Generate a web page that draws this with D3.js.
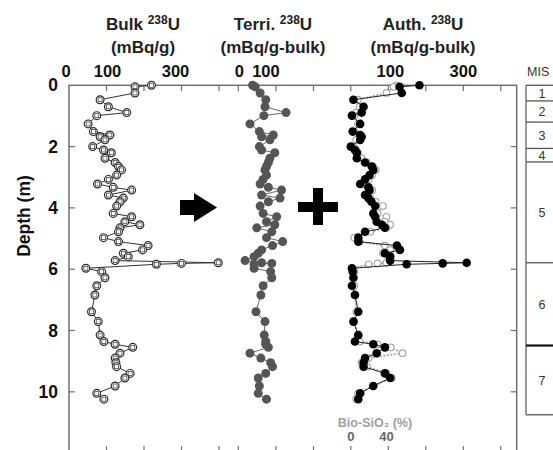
<!DOCTYPE html>
<html>
<head>
<meta charset="utf-8">
<script src="https://cdn.jsdelivr.net/npm/d3@7"></script>
<style>
    body { margin: 0; background: #fff; }
    text { font-family: 'Liberation Sans', Arial, sans-serif; }
</style>
</head>
<body>
<div id="chart"></div>
<script>
// depth of each sample (m), shared by all series
const depth = [0.00, 0.05, 0.25, 0.47, 0.70, 0.89, 0.99, 1.26, 1.51, 1.62, 1.68, 1.78,
    2.00, 2.11, 2.20, 2.38, 2.52, 2.65, 2.76, 2.93, 3.07, 3.22, 3.33, 3.42, 3.58, 3.68,
    3.80, 3.94, 4.18, 4.29, 4.45, 4.55, 4.65, 4.78, 4.97, 5.10, 5.23, 5.37, 5.48, 5.59,
    5.72, 5.79, 5.81, 5.84, 5.97, 6.08, 6.28, 6.54, 6.84, 7.39, 7.71, 8.15, 8.36, 8.45,
    8.55, 8.74, 8.90, 9.05, 9.18, 9.40, 9.55, 9.81, 10.05, 10.24]

// bulk 238U (mBq/g)
const bulk = [220, 176, 176, 83, 105, 154, 74, 51, 65, 109, 83, 96,
    63, 92, 113, 96, 123, 132, 140, 127, 105, 76, 118, 167, 105, 145,
    136, 127, 118, 167, 149, 189, 136, 132, 92, 132, 211, 196, 145, 158,
    123, 398, 300, 233, 45, 87, 96, 74, 69, 60, 78, 83, 93, 123,
    170, 136, 123, 125, 127, 163, 149, 123, 74, 93]

// terrigenous 238U (mBq/g-bulk)
const terri = [38, 45, 58, 73, 71, 127, 68, 31, 56, 93, 62, 84,
    56, 62, 97, 84, 80, 75, 71, 75, 66, 58, 80, 115, 62, 111,
    80, 58, 66, 102, 75, 97, 49, 89, 75, 118, 91, 62, 53, 42,
    18, 62, 89, 42, 42, 86, 89, 66, 60, 47, 71, 69, 73, 73,
    80, 31, 60, 86, 91, 73, 53, 56, 53, 75]

// authigenic 238U (mBq/g-bulk)
const auth = [183, 130, 136, 7, 34, 29, 3, 25, 5, 25, 29, 25,
    0, 11, 16, 16, 38, 56, 60, 50, 38, 25, 47, 50, 38, 47,
    55, 65, 60, 65, 69, 83, 91, 38, 20, 20, 123, 131, 91, 105,
    105, 309, 245, 149, 3, 5, 7, 3, 11, 20, 7, 20, 11, 60,
    91, 69, 38, 34, 34, 91, 105, 60, 25, 20]

// biogenic opal (%)
const bioSiO2 = [51, 48, 40, 8, 10, 6, 4, 8, 4, 8, 10, 6,
    3, 6, 8, 12, 18, 25, 28, 24, 20, 14, 20, 24, 16, 22,
    28, 36, 30, 40, 38, 44, 40, 22, 4, 10, 38, 44, 36, 42,
    44, 40, 30, 20, 2, 4, 3, 4, 5, 6, 4, 8, 10, 30,
    45, 58, 20, 12, 18, 40, 46, 25, 8, 6]

// marine isotope stages: boundaries (m) and names
const misBounds = [0, 0.51, 1.2, 2.06, 2.5, 5.79, 8.49, 10.75]
const misLabels = ['1', '2', '3', '4', '5', '6', '7']

const depthTicks = [0, 2, 4, 6, 8, 10]
const bulkTicks = [100, 200, 300, 400]
const terriTicks = [0, 100, 200]
const authTicks = [0, 100, 200, 300, 400]
const bulkLabels = [0, 100, 300]
const terriLabels = [0, 100]
const authLabels = [100, 300]
const bioLabels = [0, 40]

const width = 553
const height = 450
const frame = { left: 69, top: 85.3, right: 516.7, bottom: 453.1 }

const svg = d3.select('#chart').append('svg')
    .attr('width', width)
    .attr('height', height)

const y = d3.scaleLinear().domain([0, 12]).range([frame.top, frame.bottom])
const xBulk = d3.scaleLinear().domain([0, 400]).range([69, 219])
const xTerri = d3.scaleLinear().domain([0, 200]).range([238.3, 313.5])
const xAuth = d3.scaleLinear().domain([0, 400]).range([350.8, 500.8])
const xBio = d3.scaleLinear().domain([0, 40]).range([350.8, 386.5])

const axisColor = '#707070'

// frame
svg.append('rect')
    .attr('x', frame.left)
    .attr('y', frame.top)
    .attr('width', frame.right - frame.left)
    .attr('height', frame.bottom - frame.top)
    .attr('fill', 'none')
    .attr('stroke', axisColor)
    .attr('stroke-width', 1.5)

// top / bottom ticks
const xTickPos = [].concat(
    bulkTicks.map(v => xBulk(v)),
    terriTicks.map(v => xTerri(v)),
    authTicks.map(v => xAuth(v))
)
svg.append('g').selectAll('line.top')
    .data(xTickPos)
    .enter().append('line')
        .attr('x1', d => d).attr('x2', d => d)
        .attr('y1', frame.top).attr('y2', frame.top + 6)
        .attr('stroke', axisColor).attr('stroke-width', 1.2)
svg.append('g').selectAll('line.bottom')
    .data(xTickPos)
    .enter().append('line')
        .attr('x1', d => d).attr('x2', d => d)
        .attr('y1', frame.bottom).attr('y2', frame.bottom - 7)
        .attr('stroke', axisColor).attr('stroke-width', 1.2)

// left / right depth ticks
const sideTicks = svg.append('g').selectAll('g')
    .data(depthTicks.slice(1))
    .enter().append('g')
sideTicks.append('line')
    .attr('x1', frame.left).attr('x2', frame.left + 6)
    .attr('y1', d => y(d)).attr('y2', d => y(d))
    .attr('stroke', axisColor).attr('stroke-width', 1.2)
sideTicks.append('line')
    .attr('x1', frame.right).attr('x2', frame.right - 6)
    .attr('y1', d => y(d)).attr('y2', d => y(d))
    .attr('stroke', axisColor).attr('stroke-width', 1.2)

// depth labels
svg.append('g').selectAll('text')
    .data(depthTicks)
    .enter().append('text')
        .attr('x', 58)
        .attr('y', d => y(d) + 6)
        .attr('text-anchor', 'end')
        .attr('font-size', 17.5)
        .attr('font-weight', 'bold')
        .attr('fill', '#111')
        .text(d => d)

svg.append('text')
    .attr('transform', 'translate(30,216) rotate(-90)')
    .attr('text-anchor', 'middle')
    .attr('font-size', 17.5)
    .attr('font-weight', 'bold')
    .attr('fill', '#111')
    .text('Depth (m)')

// top tick labels
function tickLabels(values, scale, dx) {
    svg.append('g').selectAll('text')
        .data(values)
        .enter().append('text')
            .attr('x', (d, i) => scale(d) + dx[i])
            .attr('y', 77)
            .attr('text-anchor', 'middle')
            .attr('font-size', 16.5)
            .attr('font-weight', 'bold')
            .attr('fill', '#111')
            .text(d => d)
}
tickLabels(bulkLabels, xBulk, [-3, 1, -6])
tickLabels(terriLabels, xTerri, [1, -10])
tickLabels(authLabels, xAuth, [2, 0])

// panel titles
function title(cx, name, unit) {
    const t1 = svg.append('text')
        .attr('x', cx).attr('y', 30)
        .attr('text-anchor', 'middle')
        .attr('font-size', 17)
        .attr('font-weight', 'bold')
        .attr('fill', '#222')
    t1.append('tspan').text(name + ' ')
    t1.append('tspan').attr('font-size', 12).attr('dy', -6).text('238')
    t1.append('tspan').attr('dy', 6).text('U')
    svg.append('text')
        .attr('x', cx).attr('y', 53)
        .attr('text-anchor', 'middle')
        .attr('font-size', 17)
        .attr('font-weight', 'bold')
        .attr('fill', '#222')
        .text(unit)
}
title(143, 'Bulk', '(mBq/g)')
title(273, 'Terri.', '(mBq/g-bulk)')
title(423, 'Auth.', '(mBq/g-bulk)')

// series
const rows = arr => depth.map((d, i) => ({ d, v: arr[i] }))
const lineOf = scale => d3.line().x(p => scale(p.v)).y(p => y(p.d))

// bulk
svg.append('path')
    .attr('d', lineOf(xBulk)(rows(bulk)))
    .attr('fill', 'none').attr('stroke', '#333').attr('stroke-width', 1)
const bulkPts = svg.append('g').selectAll('g')
    .data(rows(bulk))
    .enter().append('g')
        .attr('transform', p => `translate(${xBulk(p.v)},${y(p.d)})`)
bulkPts.append('circle')
    .attr('r', 3.9).attr('fill', '#fff').attr('stroke', '#2a2a2a').attr('stroke-width', 1.2)
bulkPts.append('rect')
    .attr('x', -2).attr('y', -2).attr('width', 4).attr('height', 4)
    .attr('fill', 'none').attr('stroke', '#444').attr('stroke-width', 0.8)

// terrigenous
svg.append('path')
    .attr('d', lineOf(xTerri)(rows(terri)))
    .attr('fill', 'none').attr('stroke', '#666').attr('stroke-width', 1)
svg.append('g').selectAll('circle')
    .data(rows(terri))
    .enter().append('circle')
        .attr('cx', p => xTerri(p.v))
        .attr('cy', p => y(p.d))
        .attr('r', 4.5)
        .attr('fill', '#555')

// biogenic opal (under authigenic)
svg.append('path')
    .attr('d', lineOf(xBio)(rows(bioSiO2)))
    .attr('fill', 'none').attr('stroke', '#a8a8a8')
    .attr('stroke-width', 1.8).attr('stroke-dasharray', '2,1.5')
svg.append('g').selectAll('circle')
    .data(rows(bioSiO2))
    .enter().append('circle')
        .attr('cx', p => xBio(p.v))
        .attr('cy', p => y(p.d))
        .attr('r', 3.3)
        .attr('fill', '#fff').attr('stroke', '#a8a8a8').attr('stroke-width', 1.2)

// authigenic
svg.append('path')
    .attr('d', lineOf(xAuth)(rows(auth)))
    .attr('fill', 'none').attr('stroke', '#222').attr('stroke-width', 1)
svg.append('g').selectAll('circle')
    .data(rows(auth))
    .enter().append('circle')
        .attr('cx', p => xAuth(p.v))
        .attr('cy', p => y(p.d))
        .attr('r', 4.3)
        .attr('fill', '#000')

// Bio-SiO2 label and ticks
svg.append('text')
    .attr('x', 375).attr('y', 427)
    .attr('text-anchor', 'middle')
    .attr('font-size', 12.5).attr('font-weight', 'bold')
    .attr('fill', '#a0a0a0')
    .text('Bio-SiO\u2082 (%)')
svg.append('g').selectAll('text')
    .data(bioLabels)
    .enter().append('text')
        .attr('x', d => xBio(d))
        .attr('y', 441)
        .attr('text-anchor', 'middle')
        .attr('font-size', 13).attr('font-weight', 'bold')
        .attr('fill', '#666')
        .text(d => d)

// arrow and plus
svg.append('path')
    .attr('d', 'M180,200 L194,200 L194,193 L217,207.5 L194,222 L194,215 L180,215 Z')
    .attr('fill', '#000')
svg.append('rect').attr('x', 298).attr('y', 202).attr('width', 40).attr('height', 10).attr('fill', '#000')
svg.append('rect').attr('x', 313).attr('y', 188).attr('width', 10).attr('height', 37).attr('fill', '#000')

// MIS column
const misX = 526
svg.append('text')
    .attr('x', misX + 1).attr('y', 76)
    .attr('font-size', 12.5)
    .attr('fill', '#333')
    .text('MIS')
svg.append('line')
    .attr('x1', misX).attr('x2', misX)
    .attr('y1', y(misBounds[0])).attr('y2', y(misBounds[misBounds.length - 1]))
    .attr('stroke', '#555').attr('stroke-width', 1.2)
svg.append('g').selectAll('line')
    .data(misBounds)
    .enter().append('line')
        .attr('x1', misX).attr('x2', width)
        .attr('y1', d => y(d)).attr('y2', d => y(d))
        .attr('stroke', (d, i) => i === 6 ? '#111' : '#555')
        .attr('stroke-width', (d, i) => i === 6 ? 2.2 : 1.3)
svg.append('g').selectAll('text')
    .data(misLabels)
    .enter().append('text')
        .attr('x', 542)
        .attr('y', (d, i) => (y(misBounds[i]) + y(misBounds[i + 1])) / 2 + 4.5)
        .attr('text-anchor', 'middle')
        .attr('font-size', 12.5)
        .attr('fill', '#333')
        .text(d => d)
</script>
</body>
</html>
